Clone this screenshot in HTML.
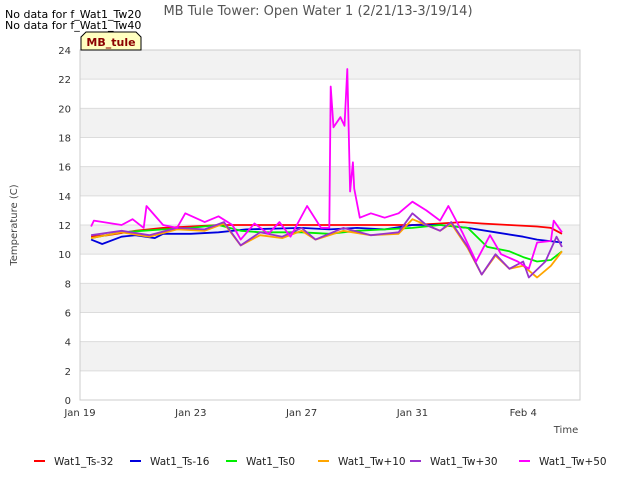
<!DOCTYPE html>
<html><head><meta charset="utf-8"><style>
body{margin:0;background:#fff;font-family:"Liberation Sans","DejaVu Sans",sans-serif}
</style></head><body>
<svg id="chart" width="640" height="480" xmlns="http://www.w3.org/2000/svg" font-family="DejaVu Sans, Liberation Sans, sans-serif">
<rect width="640" height="480" fill="#fff"/>
<g id="bands"></g><g id="grid"></g><g id="series"></g><g id="axes"></g>
<text x="318" y="15" font-size="13" fill="#555" text-anchor="middle">MB Tule Tower: Open Water 1 (2/21/13-3/19/14)</text>
<text x="5" y="18" font-size="11" fill="#000">No data for f_Wat1_Tw20</text>
<text x="5" y="29" font-size="11" fill="#000">No data for f_Wat1_Tw40</text>
<g><path d="M81,50 L81,37 L86,32 L136,32 L141,37 L141,50 Z" fill="#ffffc0" stroke="#000" stroke-width="1"/>
<text x="111" y="46" font-size="11" font-weight="bold" fill="#8b0000" text-anchor="middle">MB_tule</text></g>
<text x="17" y="225" font-size="10" fill="#444" text-anchor="middle" transform="rotate(-90 17 225)">Temperature (C)</text>
<text x="566" y="433" font-size="10" fill="#444" text-anchor="middle">Time</text>
<g id="legend"></g>
</svg>
<script>
const yTicks=[0,2,4,6,8,10,12,14,16,18,20,22,24];
const xTickDays=[0,4,8,12,16];
const xTickLabels=["Jan 19","Jan 23","Jan 27","Jan 31","Feb 4"];
const seriesNames=["Wat1_Ts-32","Wat1_Ts-16","Wat1_Ts0","Wat1_Tw+10","Wat1_Tw+30","Wat1_Tw+50"];
const seriesColors=["#ff0000","#0000dd","#00ee00","#ffa500","#9932cc","#ff00ff"];
const redDays=[0.4,1,2,3,4,5,6,8,10,12,13,13.8,14.5,15.5,16.5,17,17.4];
const redVals=[11.2,11.3,11.6,11.8,11.9,12,12,12,12,12,12.1,12.2,12.1,12,11.9,11.8,11.4];
const blueDays=[0.4,0.8,1.5,2,2.7,3,4,5,6,8,9,10,11,12,13,14,15,16,16.5,17.4];
const blueVals=[11,10.7,11.2,11.3,11.1,11.4,11.4,11.5,11.7,11.8,11.7,11.8,11.7,12,12,11.8,11.5,11.2,11,10.8];
const greenDays=[0.4,1.5,3,4,5,5.8,6.5,8,9,10,12,13,14,14.7,15.5,16,16.5,17,17.4];
const greenVals=[11.1,11.5,11.7,11.8,12,11.6,11.5,11.5,11.4,11.6,11.8,12,11.8,10.5,10.2,9.8,9.5,9.6,10.2];
const orangeDays=[0.4,1.5,2.5,3.5,4.5,5.2,5.8,6.5,7.3,8,8.5,9.5,10.5,11.5,12,12.5,13,13.4,14,14.5,15,15.5,16,16.5,17,17.4];
const orangeVals=[11.1,11.5,11.2,11.7,11.6,12.1,10.6,11.3,11.1,11.6,11,11.6,11.3,11.4,12.4,12,11.6,12.1,10.4,8.6,9.9,9,9.2,8.4,9.2,10.2];
const purpleDays=[0.4,1.5,2.5,3.5,4.5,5.2,5.8,6.5,7.3,8,8.5,9.5,10.5,11.5,12,12.5,13,13.4,14,14.5,15,15.5,16,16.2,16.8,17.2,17.4];
const purpleVals=[11.3,11.6,11.3,11.8,11.7,12.2,10.6,11.5,11.2,11.8,11,11.8,11.3,11.5,12.8,12,11.6,12.2,10.5,8.6,10,9,9.5,8.4,9.5,11.2,10.5];
const magentaDays=[0.4,0.5,1.5,1.9,2.3,2.4,3,3.5,3.8,4.5,5,5.5,5.8,6.3,6.8,7.2,7.6,8.2,8.7,9.0,9.05,9.15,9.4,9.55,9.65,9.75,9.85,9.9,10.1,10.5,11,11.5,12,12.5,13,13.3,13.8,14.3,14.8,15.2,15.8,16.2,16.5,17,17.1,17.4];
const magentaVals=[11.9,12.3,12,12.4,11.8,13.3,12,11.8,12.8,12.2,12.6,12,11,12.1,11.4,12.2,11.2,13.3,11.8,11.8,21.5,18.7,19.4,18.8,22.7,14.3,16.3,14.5,12.5,12.8,12.5,12.8,13.6,13,12.3,13.3,11.5,9.5,11.3,10,9.5,9,10.8,10.9,12.3,11.5];
const seriesDays=[redDays,blueDays,greenDays,orangeDays,purpleDays,magentaDays];
const seriesVals=[redVals,blueVals,greenVals,orangeVals,purpleVals,magentaVals];
const X0=80,X1=580,Y0=400,Y1=50,DMAX=18.05,VMAX=24;
const xs=d=>X0+d*(X1-X0)/DMAX, ys=v=>Y0-v*(Y0-Y1)/VMAX;
const NS="http://www.w3.org/2000/svg";
function mk(tag,attrs,parent,txt){const e=document.createElementNS(NS,tag);for(const k in attrs)e.setAttribute(k,attrs[k]);if(txt!==undefined)e.textContent=txt;document.getElementById(parent).appendChild(e);return e;}
for(let i=0;i<yTicks.length-1;i++){
 const r=mk('rect',{x:X0,y:ys(yTicks[i+1]),width:X1-X0,height:ys(yTicks[i])-ys(yTicks[i+1]),fill:i%2===0?'#ffffff':'#f2f2f2'},'bands');
 
 
}
yTicks.forEach(t=>{
 const l=mk('line',{x1:X0,x2:X1,y1:ys(t),y2:ys(t),stroke:'#dcdcdc','stroke-width':1},'grid');
 
 
 const tx=mk('text',{x:X0-9,y:ys(t)+4,'font-size':10,fill:'#333','text-anchor':'end'},'axes',String(t));
 
 
});
xTickDays.forEach((d,i)=>{
 const tx=mk('text',{x:xs(d),y:416,'font-size':10,fill:'#333','text-anchor':'middle'},'axes',xTickLabels[i]);
 
 
});
const bx=mk('rect',{x:X0,y:Y1,width:X1-X0,height:Y0-Y1,fill:'none',stroke:'#ccc'},'axes');


seriesNames.forEach((n,i)=>{
 const pts=seriesDays[i].map((d,j)=>xs(d).toFixed(1)+','+ys(seriesVals[i][j]).toFixed(1)).join(' ');
 const p=mk('polyline',{points:pts,fill:'none',stroke:seriesColors[i],'stroke-width':1.8,'stroke-linejoin':'round'},'series');
 
 
});
const legX=[34,130,226,318,410,519];
seriesNames.forEach((n,i)=>{
 const g=mk('g',{},'legend');
 
 
 const l=document.createElementNS(NS,'line');
 l.setAttribute('x1',legX[i]);l.setAttribute('x2',legX[i]+11);l.setAttribute('y1',461);l.setAttribute('y2',461);
 l.setAttribute('stroke',seriesColors[i]);l.setAttribute('stroke-width',2);g.appendChild(l);
 const t=document.createElementNS(NS,'text');
 t.setAttribute('x',legX[i]+20);t.setAttribute('y',465);t.setAttribute('font-size',10.5);t.setAttribute('fill','#222');
 t.textContent=n;g.appendChild(t);
});
</script>
</body></html>
